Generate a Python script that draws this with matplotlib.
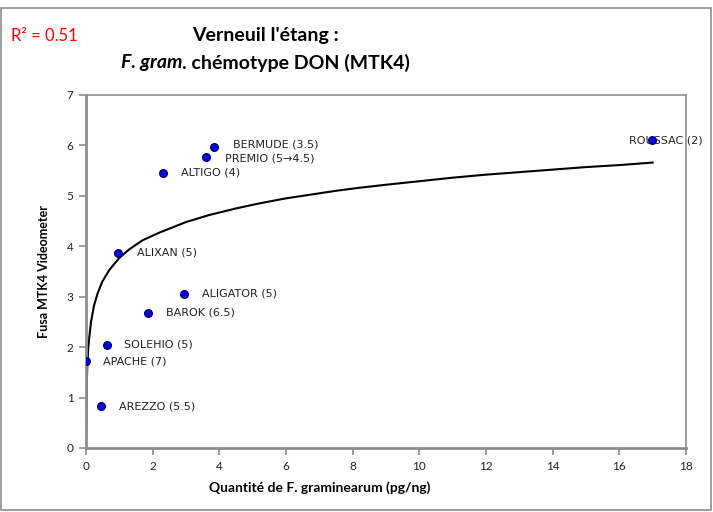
import numpy as np
import matplotlib
matplotlib.use("Agg")
import matplotlib.pyplot as plt
from matplotlib.patches import Rectangle

plt.rcParams['font.family'] = ['Lato', 'DejaVu Sans']

# values
varieties = ["BERMUDE (3.5)", "PREMIO (5\u21924.5)", "ALTIGO (4)", "ALIXAN (5)",
             "ALIGATOR (5)", "BAROK (6.5)", "SOLEHIO (5)", "APACHE (7)",
             "AREZZO (5.5)", "ROUSSAC (2)"]
quantite = [3.83, 3.61, 2.30, 0.95, 2.94, 1.87, 0.62, 0.005, 0.44, 16.97]
fusa = [5.97, 5.78, 5.46, 3.87, 3.06, 2.68, 2.05, 1.72, 0.83, 6.10]
label_dx = [19, 19, 18, 19, 18, 18, 17, 17, 18, -23]
label_dy = [2, -2, 0, 0, 0, 0, 0, 0, 0, 0]

# logarithmic trendline as drawn in the reference
trend_x = [0.005, 0.01, 0.02, 0.04, 0.07, 0.1, 0.15, 0.24, 0.35, 0.49, 0.7, 1.0,
           1.3, 1.7, 2.2, 3.0, 3.7, 4.5, 5.2, 6.0, 6.7, 7.5, 8.2, 9, 10, 11, 12,
           13, 14, 15, 16, 17]
trend_y = [0.35, 0.8, 1.2, 1.65, 2.0, 2.2, 2.5, 2.82, 3.07, 3.3, 3.53, 3.77,
           3.94, 4.12, 4.27, 4.48, 4.62, 4.75, 4.85, 4.95, 5.02, 5.1, 5.16, 5.22,
           5.29, 5.36, 5.42, 5.47, 5.52, 5.57, 5.61, 5.66]

fig = plt.figure(figsize=(7.13, 5.12), dpi=100)
fig.patches.append(Rectangle((0.002, 0.004), 0.995, 0.98, transform=fig.transFigure,
                             fill=False, edgecolor='#8c8c8c', lw=1.2))
ax = fig.add_axes([0.1206, 0.125, 0.8415, 0.6895])

ax.plot(trend_x, trend_y, color='black', lw=1.5, zorder=2)

ax.plot(quantite, fusa, 'o', ms=5.5, mfc='#0000ff', mec='#00006e', mew=1, zorder=3)
for name, xi, yi, dx, dy in zip(varieties, quantite, fusa, label_dx, label_dy):
    ax.annotate(name, (xi, yi), xytext=(dx, dy), textcoords='offset pixels',
                ha='left', va='center', fontsize=8, color='#222222', zorder=1,
                family='DejaVu Sans')

ax.set_xlim(0, 18)
ax.set_ylim(0, 7)
ax.set_xticks(range(0, 19, 2))
ax.set_yticks(range(0, 8))
for s in ax.spines.values():
    s.set_color('#8c8c8c')
    s.set_linewidth(1.2)
ax.spines['left'].set_linewidth(2)
ax.spines['bottom'].set_linewidth(2)
ax.tick_params(direction='out', length=5, width=1.2, color='#8c8c8c',
               labelsize=8.5, labelcolor='#222222', pad=4)

ax.set_xlabel("Quantit\u00e9 de F. graminearum (pg/ng)", fontsize=10, fontweight='bold')
ax.xaxis.set_label_coords(0.39, -0.093)
ax.set_ylabel("Fusa MTK4 Videometer", fontsize=9, fontweight='bold', labelpad=12)

# title: second line mixes bold italic and bold
fig.text(0.372, 0.93, "Verneuil l'\u00e9tang :", ha='center', va='center',
         fontsize=14, fontweight='bold')
t1 = fig.text(0, 0.878, "F. gram", ha='left', va='center', fontsize=14,
              fontweight='bold', style='italic')
t2 = fig.text(0, 0.878, ". ch\u00e9motype DON (MTK4)", ha='left', va='center',
              fontsize=14, fontweight='bold')
r = fig.canvas.get_renderer()
w1 = t1.get_window_extent(r).width
w2 = t2.get_window_extent(r).width
x0 = 0.372 * fig.bbox.width - (w1 + w2) / 2
t1.set_x(x0 / fig.bbox.width)
t2.set_x((x0 + w1) / fig.bbox.width)

fig.text(0.015, 0.93, "R\u00b2 = 0.51", ha='left', va='center', fontsize=12,
         color='red')

fig.savefig("out.png", dpi=100)
